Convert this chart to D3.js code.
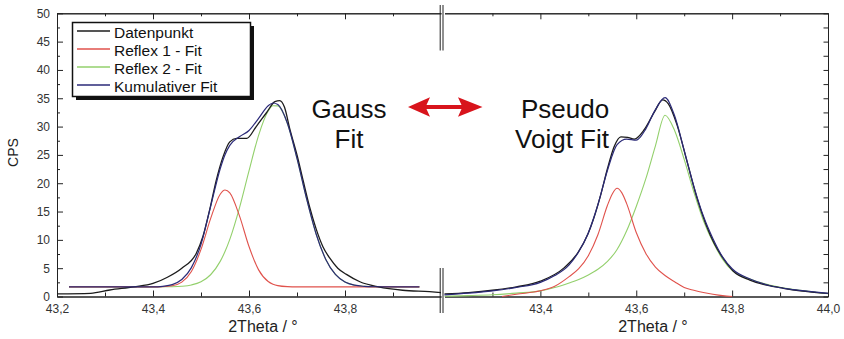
<!DOCTYPE html>
<html>
<head>
<meta charset="utf-8">
<script src="https://cdn.jsdelivr.net/npm/d3@7"></script>
<style>
    body { margin: 0; background: #fff; }
    svg { font-family: "Liberation Sans", Arial, sans-serif; }
    .axis path, .axis line { stroke: #222; stroke-width: 1; }
    .axis text { fill: #333; font-size: 12px; font-family: "Liberation Sans", Arial, sans-serif; }
</style>
</head>
<body>
<svg id="chart"></svg>
<script>
// Gauss fit (left panel)
var gaussDataX = [43.20, 43.27, 43.31, 43.36, 43.40, 43.43, 43.46, 43.49, 43.504, 43.518, 43.532, 43.546, 43.56, 43.574, 43.595, 43.615, 43.636, 43.654, 43.664, 43.674, 43.685, 43.70, 43.713, 43.726, 43.74, 43.754, 43.768, 43.785, 43.803, 43.831, 43.87, 43.92, 43.976, 44.00];
var gaussData = [0.45, 0.56, 1.15, 1.7, 2.3, 3.4, 5.0, 7.6, 10.6, 15.3, 20.6, 24.7, 27.3, 27.9, 27.9, 30.0, 32.4, 34.4, 34.6, 33.4, 29.6, 25.0, 20.4, 15.9, 11.9, 8.8, 6.8, 5.0, 3.9, 2.6, 1.7, 1.1, 0.85, 0.7];

var gaussFitX = [43.225, 43.30, 43.36, 43.40, 43.42, 43.44, 43.46, 43.48, 43.50, 43.52, 43.54, 43.55, 43.56, 43.58, 43.60, 43.62, 43.64, 43.65, 43.66, 43.68, 43.70, 43.72, 43.74, 43.76, 43.78, 43.80, 43.82, 43.84, 43.86, 43.90, 43.955];
var gaussReflex1 = [1.7, 1.7, 1.7, 1.7, 1.73, 1.89, 2.53, 4.41, 8.31, 13.74, 18.06, 18.8, 18.3, 14.28, 8.82, 4.70, 2.65, 2.18, 1.92, 1.74, 1.7, 1.7, 1.7, 1.7, 1.7, 1.7, 1.7, 1.7, 1.7, 1.7, 1.7];
var gaussReflex2 = [1.7, 1.7, 1.7, 1.7, 1.71, 1.73, 1.81, 2.04, 2.60, 3.84, 6.20, 7.94, 10.09, 15.61, 22.18, 28.46, 32.74, 33.68, 33.66, 30.54, 24.39, 17.26, 11.0, 6.55, 3.90, 2.57, 2.0, 1.79, 1.72, 1.7, 1.7];
var gaussKumulativ = [1.7, 1.7, 1.7, 1.7, 1.8, 2.1, 3.0, 5.1, 9.21, 15.88, 22.56, 25.04, 26.69, 28.19, 29.30, 31.46, 33.69, 34.16, 33.88, 30.58, 24.39, 17.26, 11.0, 6.55, 3.90, 2.57, 2.0, 1.79, 1.72, 1.7, 1.7];

// Pseudo Voigt fit (right panel)
var voigtDataX = [43.20, 43.25, 43.30, 43.35, 43.40, 43.45, 43.478, 43.499, 43.512, 43.526, 43.54, 43.554, 43.568, 43.582, 43.596, 43.617, 43.638, 43.655, 43.667, 43.685, 43.706, 43.727, 43.745, 43.763, 43.784, 43.802, 43.837, 43.872, 43.907, 43.942, 44.00];
var voigtData = [0.45, 0.7, 1.1, 1.7, 2.7, 5.1, 7.7, 11.0, 14.0, 18.0, 22.6, 26.5, 28.2, 28.1, 27.8, 29.5, 32.6, 34.7, 34.0, 30.3, 23.8, 17.3, 12.8, 9.3, 6.4, 4.5, 2.9, 2.0, 1.45, 1.0, 0.55];

var voigtRedX = [43.32, 43.35, 43.40, 43.43, 43.46, 43.48, 43.50, 43.52, 43.54, 43.55, 43.56, 43.57, 43.58, 43.60, 43.62, 43.64, 43.66, 43.68, 43.70, 43.72, 43.74, 43.76, 43.78, 43.80];
var voigtReflex1 = [0, 0.4, 1.0, 1.8, 3.5, 4.9, 7.2, 10.9, 16.1, 18.1, 19.1, 18.3, 16.4, 11.3, 7.6, 5.2, 3.7, 2.6, 1.6, 1.1, 0.7, 0.4, 0.15, 0];

var voigtFitX = [43.20, 43.25, 43.30, 43.35, 43.40, 43.43, 43.46, 43.48, 43.50, 43.52, 43.54, 43.56, 43.58, 43.60, 43.62, 43.64, 43.66, 43.68, 43.70, 43.72, 43.74, 43.76, 43.78, 43.80, 43.84, 43.88, 43.92, 43.96, 44.00];
var voigtReflex2 = [0.05, 0.15, 0.3, 0.6, 1.0, 1.6, 2.4, 3.0, 3.8, 4.8, 6.2, 8.3, 11.6, 15.9, 20.8, 26.6, 32.0, 29.3, 24.2, 18.5, 13.4, 9.6, 6.6, 4.6, 3.0, 2.0, 1.35, 0.9, 0.5];
var voigtKumulativ = [0.3, 0.6, 1.0, 1.6, 2.5, 3.7, 5.6, 7.9, 11.2, 16.2, 22.3, 26.8, 27.8, 27.6, 29.6, 33.0, 35.1, 31.9, 25.8, 19.5, 14.2, 10.2, 7.0, 4.9, 3.0, 1.9, 1.3, 0.9, 0.55];

// ticks
var yTicks = [0, 5, 10, 15, 20, 25, 30, 35, 40, 45, 50];
var yMinorTicks = [2.5, 7.5, 12.5, 17.5, 22.5, 27.5, 32.5, 37.5, 42.5, 47.5];
var leftMajorTicks = [43.2, 43.4, 43.6, 43.8];
var rightMajorTicks = [43.4, 43.6, 43.8, 44.0];
var minorTicks = [43.3, 43.5, 43.7, 43.9];

var legendNames = ["Datenpunkt", "Reflex 1 - Fit", "Reflex 2 - Fit", "Kumulativer Fit"];
var colors = { data: "#1c1c1c", red: "#e0524c", green: "#93d06c", blue: "#2b2a78" };
var legendColors = [colors.data, colors.red, colors.green, colors.blue];

var totalWidth = 844;
var totalHeight = 339;
var plotTop = 13.3;
var plotBottom = 296.5;
var plotLeft = 57;
var plotRight = 828;
var breakLeft = 441;
var breakRight = 444.5;

var svg = d3.select("#chart")
    .attr("width", totalWidth)
    .attr("height", totalHeight);

var y = d3.scaleLinear().domain([0, 50]).range([plotBottom, plotTop]);
var xLeft = d3.scaleLinear().domain([43.2, 44.0]).range([plotLeft, breakLeft]);
var xRight = d3.scaleLinear().domain([43.2, 44.0]).range([breakRight, plotRight]);

function commaFormat(d) {
    return d3.format(".1f")(d).replace(".", ",");
}

function drawXAxes(x, majors) {
    svg.append("g")
        .attr("class", "axis")
        .attr("transform", "translate(0," + plotBottom + ")")
        .call(d3.axisBottom(x).tickValues(majors).tickFormat(commaFormat)
            .tickSize(-6).tickSizeOuter(0).tickPadding(8));
    svg.append("g")
        .attr("class", "axis")
        .attr("transform", "translate(0," + plotBottom + ")")
        .call(d3.axisBottom(x).tickValues(minorTicks).tickFormat("")
            .tickSize(-4).tickSizeOuter(0));
    // top frame
    svg.append("g")
        .attr("class", "axis")
        .attr("transform", "translate(0," + plotTop + ")")
        .call(d3.axisTop(x).tickValues(majors).tickFormat("")
            .tickSize(-6).tickSizeOuter(0));
    svg.append("g")
        .attr("class", "axis")
        .attr("transform", "translate(0," + plotTop + ")")
        .call(d3.axisTop(x).tickValues(minorTicks).tickFormat("")
            .tickSize(-3).tickSizeOuter(0));
}

drawXAxes(xLeft, leftMajorTicks);
drawXAxes(xRight, rightMajorTicks);

svg.append("g")
    .attr("class", "axis")
    .attr("transform", "translate(" + plotLeft + ",0)")
    .call(d3.axisLeft(y).tickValues(yTicks).tickSize(-6).tickSizeOuter(0).tickPadding(7));
svg.append("g")
    .attr("class", "axis")
    .attr("transform", "translate(" + plotLeft + ",0)")
    .call(d3.axisLeft(y).tickValues(yMinorTicks).tickFormat("").tickSize(-3).tickSizeOuter(0));
svg.append("g")
    .attr("class", "axis")
    .attr("transform", "translate(" + plotRight + ",0)")
    .call(d3.axisRight(y).tickValues(yTicks.concat(yMinorTicks)).tickFormat("").tickSize(-4.5).tickSizeOuter(0));

// axis break marks
[440.2, 443].forEach(function (bx) {
    svg.append("line").attr("x1", bx).attr("x2", bx).attr("y1", 5).attr("y2", 50.5)
        .attr("stroke", "#222").attr("stroke-width", 1);
    svg.append("line").attr("x1", bx).attr("x2", bx).attr("y1", 268).attr("y2", 313)
        .attr("stroke", "#222").attr("stroke-width", 1);
});

function drawCurve(x, xs, ys, color, width) {
    var line = d3.line()
        .x(function (d) { return x(d[0]); })
        .y(function (d) { return y(d[1]); })
        .curve(d3.curveMonotoneX);
    svg.append("path")
        .datum(d3.zip(xs, ys))
        .attr("d", line)
        .attr("fill", "none")
        .attr("stroke", color)
        .attr("stroke-width", width)
        .attr("stroke-linejoin", "round");
}

drawCurve(xLeft, gaussFitX, gaussReflex2, colors.green, 1.1);
drawCurve(xLeft, gaussFitX, gaussReflex1, colors.red, 1.1);
drawCurve(xLeft, gaussDataX, gaussData, colors.data, 1.3);
drawCurve(xLeft, gaussFitX, gaussKumulativ, colors.blue, 1.2);

drawCurve(xRight, voigtFitX, voigtReflex2, colors.green, 1.1);
drawCurve(xRight, voigtRedX, voigtReflex1, colors.red, 1.1);
drawCurve(xRight, voigtDataX, voigtData, colors.data, 1.3);
drawCurve(xRight, voigtFitX, voigtKumulativ, colors.blue, 1.2);

// legend
var legend = svg.append("g");
legend.append("rect").attr("x", 76).attr("y", 26).attr("width", 178).attr("height", 74).attr("fill", "#111");
legend.append("rect").attr("x", 72.5).attr("y", 22.5).attr("width", 178).attr("height", 74)
    .attr("fill", "#fff").attr("stroke", "#111").attr("stroke-width", 1.5);
legendNames.forEach(function (name, i) {
    var ly = 31 + i * 18;
    legend.append("line").attr("x1", 77).attr("x2", 110).attr("y1", ly).attr("y2", ly)
        .attr("stroke", legendColors[i]).attr("stroke-width", 1.5);
    legend.append("text").attr("x", 114).attr("y", ly + 1.5).attr("dy", "0.35em")
        .attr("font-size", "15.5px").attr("fill", "#111").text(name);
});

// labels
svg.append("text")
    .attr("transform", "translate(18,152.5) rotate(-90)")
    .attr("text-anchor", "middle").attr("font-size", "14px").attr("fill", "#222")
    .text("CPS");
[[xLeft, 263], [xRight, 653]].forEach(function (t) {
    svg.append("text").attr("x", t[1]).attr("y", 332)
        .attr("text-anchor", "middle").attr("font-size", "16px").attr("fill", "#222")
        .text("2Theta / °");
});

svg.append("text").attr("x", 349).attr("y", 118.3).attr("text-anchor", "middle")
    .attr("font-size", "26px").attr("fill", "#111").text("Gauss");
svg.append("text").attr("x", 349).attr("y", 148.3).attr("text-anchor", "middle")
    .attr("font-size", "26px").attr("fill", "#111").text("Fit");
svg.append("text").attr("x", 565).attr("y", 118.3).attr("text-anchor", "middle")
    .attr("font-size", "26px").attr("fill", "#111").text("Pseudo");
svg.append("text").attr("x", 562).attr("y", 148.3).attr("text-anchor", "middle")
    .attr("font-size", "26px").attr("fill", "#111").text("Voigt Fit");

// red double arrow
svg.append("path")
    .attr("d", "M408,107 L430,97.3 L426.5,105 L461.5,105 L458,97.3 L482.5,107 L458,116.7 L461.5,109 L426.5,109 L430,116.7 Z")
    .attr("fill", "#d8141c");
</script>
</body>
</html>
